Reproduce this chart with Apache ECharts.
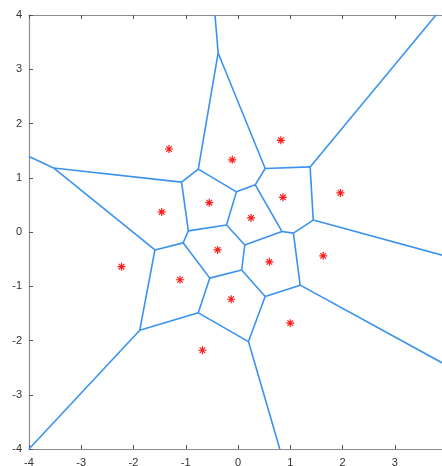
<!DOCTYPE html>
<html><head><meta charset="utf-8">
<script src="https://cdn.jsdelivr.net/npm/echarts@6/dist/echarts.min.js"></script>
<style>html,body{margin:0;padding:0;background:#fff}#c{width:442px;height:466px}</style>
</head><body><div id="c"></div>
<script>
// Generator sites (red stars)
const siteX = [-1.32, -0.11, 0.82, 1.96, 0.86, -0.55, -1.46, 0.25, -0.39, 0.60, -2.23, -1.11, -0.13, 1.63, 1.00, -0.68];
const siteY = [1.53, 1.33, 1.69, 0.72, 0.64, 0.54, 0.37, 0.26, -0.33, -0.55, -0.64, -0.88, -1.24, -0.44, -1.68, -2.18];
// Voronoi vertices
const vA=[-3.53,1.18], vB=[-1.08,0.92], vC=[-0.76,1.16], vD=[-0.38,3.30], vE=[0.52,1.17],
      vF=[1.38,1.20], vG=[1.44,0.22], vH=[0.33,0.87], vN=[-0.03,0.74], vO=[-0.95,0.02],
      vP=[-0.22,0.13], vK=[0.13,-0.24], vX=[0.84,0.01], vY=[1.06,-0.02], vZ=[1.19,-0.98],
      vL0=[0.07,-0.70], vL=[0.52,-1.19], vV=[0.20,-2.02], vT=[-0.76,-1.49], vS=[-0.54,-0.85],
      vR=[-1.05,-0.20], vQ=[-1.59,-0.33], vU=[-1.88,-1.81];
// Ends on the frame
const eLeft=[-4,1.39], eTop=[-0.44,4], eTopRight=[3.79,4], eRight1=[4,-0.45], eRight2=[4,-2.46],
      eBottom=[0.80,-4], eCorner=[-4,-4];
const edges = [
  [vA,eLeft],[vA,vB],[vA,vQ],[vB,vC],[vB,vO],[vC,vD],[vC,vN],[vD,eTop],[vD,vE],
  [vE,vF],[vE,vH],[vF,eTopRight],[vF,vG],[vG,vY],[vG,eRight1],[vH,vN],[vH,vX],
  [vN,vP],[vO,vP],[vO,vR],[vP,vK],[vK,vX],[vK,vL0],[vX,vY],[vY,vZ],[vZ,vL],
  [vZ,eRight2],[vL0,vS],[vL0,vL],[vL,vV],[vV,vT],[vV,eBottom],[vT,vS],[vS,vR],
  [vR,vQ],[vQ,vU],[vU,vT],[vU,eCorner]
];
const ticks = [-4,-3,-2,-1,0,1,2,3,4];

const chart = echarts.init(document.getElementById('c'), null, {renderer:'canvas'});
const axisCommon = {
  type:'value', min:-4, max:4, interval:1,
  axisLine:{show:true, onZero:false, lineStyle:{color:'#8c8c8c', width:1.2}},
  axisTick:{show:true, inside:true, length:4, lineStyle:{color:'#555', width:1}},
  splitLine:{show:false},
  axisLabel:{color:'#333', fontSize:11, fontFamily:'Liberation Sans, Arial, sans-serif'}
};
const star = 'path://M-0.6,-4L0.6,-4L0.6,4L-0.6,4Z M-4,-0.6L4,-0.6L4,0.6L-4,0.6Z M-3.2,-2.4L-2.4,-3.2L3.2,2.4L2.4,3.2Z M2.4,-3.2L3.2,-2.4L-2.4,3.2L-3.2,2.4Z';
chart.setOption({
  animation:false,
  backgroundColor:'#ffffff',
  grid:{left:29, top:15, width:418, height:434, containLabel:false, outerBoundsMode:'none'},
  xAxis:[
    Object.assign({}, axisCommon, {position:'bottom', axisLabel:Object.assign({}, axisCommon.axisLabel, {margin:8})}),
    Object.assign({}, axisCommon, {position:'top', axisLabel:{show:false}})
  ],
  yAxis:[
    Object.assign({}, axisCommon, {position:'left', axisLabel:Object.assign({}, axisCommon.axisLabel, {margin:7})}),
    Object.assign({}, axisCommon, {position:'right', axisLabel:{show:false}})
  ],
  series:[
    {
      type:'lines', coordinateSystem:'cartesian2d', xAxisIndex:0, yAxisIndex:0,
      polyline:false, silent:true,
      lineStyle:{color:'#3a92ee', width:1.6, opacity:1},
      data: edges.map(e => ({coords:[e[0], e[1]]}))
    },
    {
      type:'scatter', xAxisIndex:0, yAxisIndex:0,
      symbol: star, symbolSize:8,
      itemStyle:{color:'#ff1a1a', opacity:1},
      data: siteX.map((x,i)=>[x, siteY[i]])
    }
  ]
});
</script></body></html>
